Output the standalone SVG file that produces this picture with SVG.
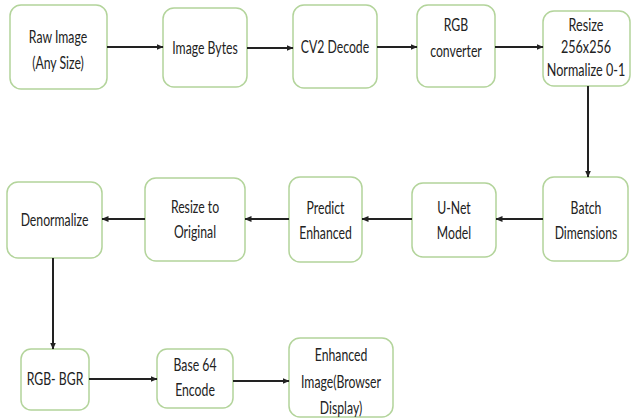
<svg xmlns="http://www.w3.org/2000/svg" width="632" height="419" viewBox="0 0 632 419">
  <style>
    .box { fill: #ffffff; stroke: #b3d49b; stroke-width: 1.5; }
    .lbl { font-family: Lato, "Open Sans", sans-serif; font-size: 18px; fill: #222222; text-anchor: middle; }
    .wire { fill: none; stroke: #222222; stroke-width: 2; }
  </style>
  <defs>
    <marker id="arrow" markerUnits="userSpaceOnUse" markerWidth="7" markerHeight="7" refX="6.5" refY="3.5" orient="auto">
      <path d="M0,0.5 L7,3.5 L0,6.5 z" fill="#222222"/>
    </marker>
  </defs>

  <!-- row 1 -->
  <g id="raw-image">
    <rect class="box" x="10" y="5" width="97" height="84" rx="11"/>
    <g transform="translate(58,0) scale(0.68,1)">
      <text class="lbl" x="0" y="43">Raw Image</text>
      <text class="lbl" x="0" y="69">(Any Size)</text>
    </g>
  </g>
  <g id="image-bytes">
    <rect class="box" x="163" y="8" width="84" height="79" rx="11"/>
    <g transform="translate(205,0) scale(0.68,1)">
      <text class="lbl" x="0" y="54">Image Bytes</text>
    </g>
  </g>
  <g id="cv2-decode">
    <rect class="box" x="293" y="5" width="84" height="83" rx="11"/>
    <g transform="translate(335,0) scale(0.68,1)">
      <text class="lbl" x="0" y="53">CV2 Decode</text>
    </g>
  </g>
  <g id="rgb-converter">
    <rect class="box" x="417" y="5" width="78" height="82" rx="11"/>
    <g transform="translate(456,0) scale(0.68,1)">
      <text class="lbl" x="0" y="31">RGB</text>
      <text class="lbl" x="0" y="57">converter</text>
    </g>
  </g>
  <g id="resize-normalize">
    <rect class="box" x="543" y="11" width="87" height="75" rx="11"/>
    <g transform="translate(586,0) scale(0.7,1)">
      <text class="lbl" x="0" y="31">Resize</text>
      <text class="lbl" x="0" y="53">256x256</text>
      <text class="lbl" x="0" y="76">Normalize 0-1</text>
    </g>
  </g>

  <!-- row 2 -->
  <g id="batch-dimensions">
    <rect class="box" x="543" y="177" width="85" height="84" rx="11"/>
    <g transform="translate(586,0) scale(0.68,1)">
      <text class="lbl" x="0" y="214">Batch</text>
      <text class="lbl" x="0" y="239">Dimensions</text>
    </g>
  </g>
  <g id="unet-model">
    <rect class="box" x="412" y="183" width="84" height="74" rx="11"/>
    <g transform="translate(454,0) scale(0.68,1)">
      <text class="lbl" x="0" y="214">U-Net</text>
      <text class="lbl" x="0" y="239">Model</text>
    </g>
  </g>
  <g id="predict-enhanced">
    <rect class="box" x="289" y="177" width="73" height="85" rx="11"/>
    <g transform="translate(325.5,0) scale(0.68,1)">
      <text class="lbl" x="0" y="214">Predict</text>
      <text class="lbl" x="0" y="239">Enhanced</text>
    </g>
  </g>
  <g id="resize-original">
    <rect class="box" x="145" y="178" width="100" height="83" rx="11"/>
    <g transform="translate(195,0) scale(0.68,1)">
      <text class="lbl" x="0" y="213">Resize to</text>
      <text class="lbl" x="0" y="238">Original</text>
    </g>
  </g>
  <g id="denormalize">
    <rect class="box" x="7" y="182" width="95" height="76" rx="11"/>
    <g transform="translate(54.5,0) scale(0.68,1)">
      <text class="lbl" x="0" y="226">Denormalize</text>
    </g>
  </g>

  <!-- row 3 -->
  <g id="rgb-bgr">
    <rect class="box" x="21" y="349" width="68" height="61" rx="10"/>
    <g transform="translate(55,0) scale(0.68,1)">
      <text class="lbl" x="0" y="385">RGB- BGR</text>
    </g>
  </g>
  <g id="base64-encode">
    <rect class="box" x="157" y="349" width="76" height="59" rx="10"/>
    <g transform="translate(195,0) scale(0.68,1)">
      <text class="lbl" x="0" y="371">Base 64</text>
      <text class="lbl" x="0" y="396">Encode</text>
    </g>
  </g>
  <g id="enhanced-image">
    <rect class="box" x="289" y="338" width="104" height="79" rx="11"/>
    <g transform="translate(341,0) scale(0.68,1)">
      <text class="lbl" x="0" y="361">Enhanced</text>
      <text class="lbl" x="0" y="388">Image(Browser</text>
      <text class="lbl" x="0" y="414">Display)</text>
    </g>
  </g>

  <!-- connectors -->
  <g id="connectors">
    <line class="wire" x1="107" y1="47" x2="163" y2="47" marker-end="url(#arrow)"/>
    <line class="wire" x1="247" y1="48" x2="293" y2="48" marker-end="url(#arrow)"/>
    <line class="wire" x1="377" y1="47" x2="417" y2="47" marker-end="url(#arrow)"/>
    <line class="wire" x1="495" y1="47" x2="543" y2="47" marker-end="url(#arrow)"/>
    <line class="wire" x1="588" y1="86" x2="588" y2="177" stroke-width="1.6" marker-end="url(#arrow)"/>
    <line class="wire" x1="543" y1="219" x2="496" y2="219" marker-end="url(#arrow)"/>
    <line class="wire" x1="412" y1="219" x2="362" y2="219" marker-end="url(#arrow)"/>
    <line class="wire" x1="289" y1="219" x2="245" y2="219" marker-end="url(#arrow)"/>
    <line class="wire" x1="145" y1="219" x2="102" y2="219" marker-end="url(#arrow)"/>
    <line class="wire" x1="53" y1="258" x2="53" y2="349" stroke-width="1.6" marker-end="url(#arrow)"/>
    <line class="wire" x1="89" y1="379" x2="157" y2="379" marker-end="url(#arrow)"/>
    <line class="wire" x1="233" y1="381" x2="289" y2="381" marker-end="url(#arrow)"/>
  </g>
</svg>
